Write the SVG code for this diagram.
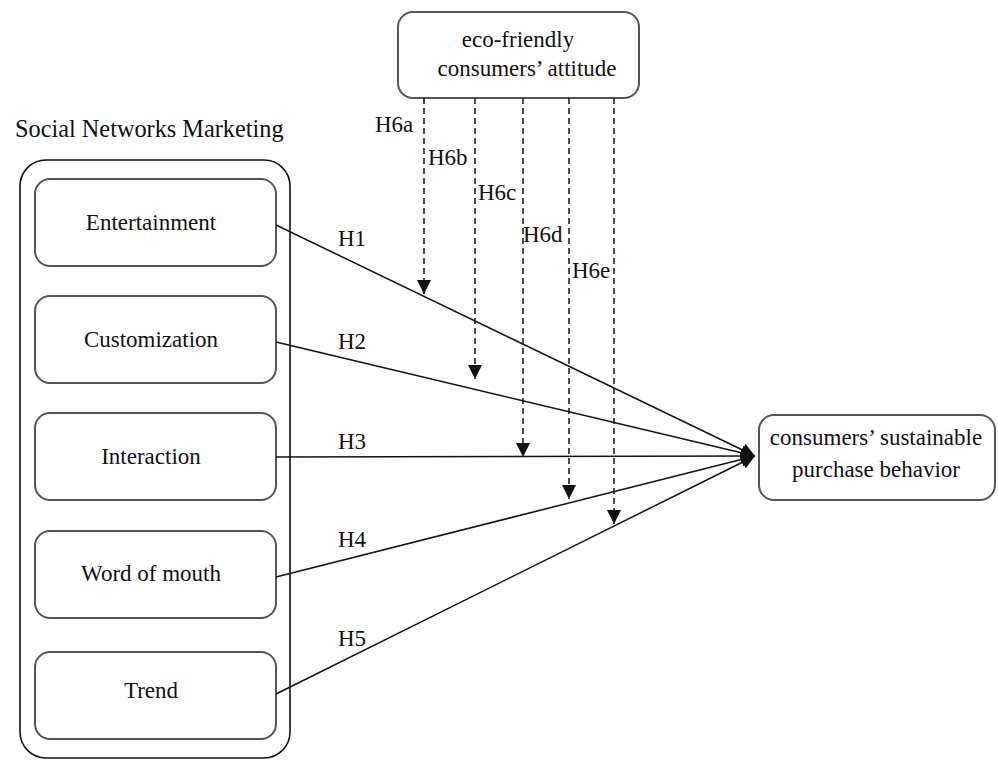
<svg xmlns="http://www.w3.org/2000/svg" width="998" height="760" viewBox="0 0 998 760">
<style>
text{font-family:"Liberation Serif","Times New Roman",serif;font-size:23px;fill:#111}
.title{font-size:24.3px}
.box{fill:#fff;stroke:#555;stroke-width:2}
.outer{fill:none;stroke:#111;stroke-width:1.6}
.solid{stroke:#111;stroke-width:1.5;fill:none}
.dash{stroke:#111;stroke-width:1.5;fill:none;stroke-dasharray:6 4}
.c{text-anchor:middle}
</style>
<defs>
<marker id="ah" viewBox="0 0 10 10" refX="10" refY="5" markerWidth="14" markerHeight="14" markerUnits="userSpaceOnUse" orient="auto">
<path d="M0,0 L10,5 L0,10 Z" fill="#111"/>
</marker>
</defs>
<rect width="998" height="760" fill="#fff"/>
<g id="snm">
<text class="title" x="15" y="137">Social Networks Marketing</text>
<rect class="outer" x="20" y="160" width="270" height="598" rx="26"/>
</g>
<g id="n-entertainment"><rect class="box" x="35" y="179" width="241" height="87" rx="15"/><text class="c" x="151" y="230">Entertainment</text></g>
<g id="n-customization"><rect class="box" x="35" y="296" width="241" height="87" rx="15"/><text class="c" x="151" y="347">Customization</text></g>
<g id="n-interaction"><rect class="box" x="35" y="413" width="241" height="87" rx="15"/><text class="c" x="151" y="464">Interaction</text></g>
<g id="n-wom"><rect class="box" x="35" y="531" width="241" height="87" rx="15"/><text class="c" x="151" y="581">Word of mouth</text></g>
<g id="n-trend"><rect class="box" x="35" y="652" width="241" height="87" rx="15"/><text class="c" x="151" y="698">Trend</text></g>
<g id="n-attitude"><rect class="box" x="398" y="12" width="241" height="86" rx="15"/><text class="c" x="518" y="47">eco-friendly</text><text class="c" x="527" y="76">consumers’ attitude</text></g>
<g id="n-behavior"><rect class="box" x="759" y="415" width="236" height="85" rx="15"/><text class="c" x="876" y="445">consumers’ sustainable</text><text class="c" x="876" y="477">purchase behavior</text></g>
<g id="connectors">
<line class="solid" x1="276" y1="225" x2="755" y2="456" marker-end="url(#ah)"/>
<line class="solid" x1="276" y1="342" x2="755" y2="456" marker-end="url(#ah)"/>
<line class="solid" x1="276" y1="457" x2="755" y2="456" marker-end="url(#ah)"/>
<line class="solid" x1="276" y1="577" x2="755" y2="456" marker-end="url(#ah)"/>
<line class="solid" x1="276" y1="694" x2="755" y2="456" marker-end="url(#ah)"/>
<line class="dash" x1="424" y1="98" x2="424" y2="294" marker-end="url(#ah)"/>
<line class="dash" x1="475" y1="98" x2="475" y2="379" marker-end="url(#ah)"/>
<line class="dash" x1="523" y1="98" x2="523" y2="457" marker-end="url(#ah)"/>
<line class="dash" x1="569" y1="98" x2="569" y2="499" marker-end="url(#ah)"/>
<line class="dash" x1="614" y1="98" x2="614" y2="524" marker-end="url(#ah)"/>
<text x="338" y="246">H1</text>
<text x="338" y="349">H2</text>
<text x="338" y="449">H3</text>
<text x="338" y="547">H4</text>
<text x="338" y="646">H5</text>
<text x="375" y="132">H6a</text>
<text x="428" y="165">H6b</text>
<text x="478" y="200">H6c</text>
<text x="523" y="242">H6d</text>
<text x="572" y="278">H6e</text>
</g>
</svg>
